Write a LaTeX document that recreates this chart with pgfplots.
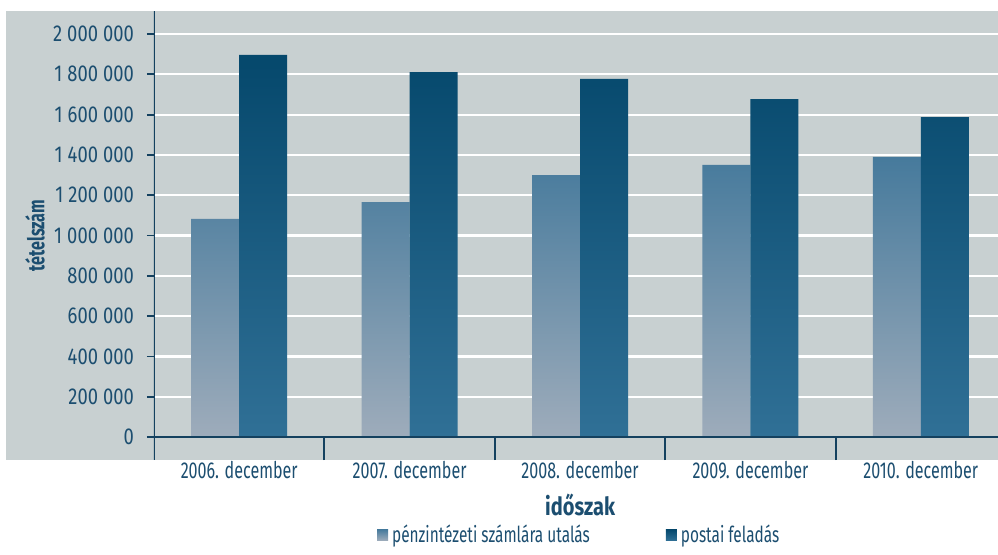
\documentclass[border=0pt]{standalone}
\usepackage{fontspec}
\setmainfont{Fira Sans}[FakeStretch=0.8]
\newfontfamily\cond{Fira Sans}[FakeStretch=0.7]
\usepackage{pgfplots}
\pgfplotsset{compat=1.18}
\definecolor{bg}{RGB}{200,208,209}
\definecolor{txt}{RGB}{28,78,112}
\definecolor{axc}{RGB}{20,65,95}
\definecolor{lt}{RGB}{70,122,156}
\definecolor{lm}{RGB}{115,145,168}
\definecolor{lb}{RGB}{158,172,187}
\definecolor{dt}{RGB}{5,72,108}
\definecolor{dm}{RGB}{0,98,138}
\definecolor{db}{RGB}{48,112,150}
\newcommand{\ts}{\hspace{0.22em}}
\begin{document}
\begin{tikzpicture}[x=1pt,y=1pt]
\path[use as bounding box] (0,0) rectangle (499,277);
\fill[bg] (3,47) rectangle (499,271.5);
\begin{axis}[at={(77pt,47pt)}, anchor=south west, scale only axis,
  width=422pt, height=224.5pt,
  xmin=-0.5, xmax=4.453, ymin=-114144, ymax=2114144,
  axis line style={draw=none},
  ybar=0pt, bar width=24pt,
  xtick={0,1,2,3,4},
  xticklabels={2006. december,2007. december,2008. december,2009. december,2010. december},
  x tick style={draw=none},
  ytick={0,200000,400000,600000,800000,1000000,1200000,1400000,1600000,1800000,2000000},
  yticklabels={0,200\ts000,400\ts000,600\ts000,800\ts000,1\ts000\ts000,1\ts200\ts000,1\ts400\ts000,1\ts600\ts000,1\ts800\ts000,2\ts000\ts000},
  ytick pos=left, tick align=outside, major tick length=3.5pt,
  y tick style={axc, line width=0.9pt},
  scaled y ticks=false,
  ymajorgrids, grid style={white, line width=1.1pt},
  yticklabel style={font=\fontsize{11.5}{13}\selectfont, text=txt, xshift=-3pt},
  xticklabel style={font=\cond\fontsize{11.5}{13}\selectfont, text=txt, yshift=6.5pt},
  xlabel={\textbf{időszak}},
  xlabel style={font=\fontsize{12.5}{14}\selectfont, text=txt, at={(axis description cs:0.505,-0.1)}, anchor=center},
  ylabel={\textbf{tételszám}},
  ylabel style={font=\cond\fontsize{11.5}{14}\selectfont, text=txt, at={(axis description cs:-0.141,0.5)}, anchor=center, rotate=0},
  legend columns=2,
  legend style={at={(axis description cs:0.505,-0.167)}, anchor=center, draw=none, fill=none,
    font=\cond\fontsize{11}{13}\selectfont, text=txt,
    /tikz/every even column/.append style={column sep=36pt}},
  legend image code/.code={\fill[#1] (-2pt,-2.75pt) rectangle (3.5pt,2.75pt);},
]
\addplot[draw=none, top color=lt, middle color=lm, bottom color=lb] coordinates
  {(0,1082000) (1,1166000) (2,1300000) (3,1350000) (4,1390000)};
\addlegendentry{pénzintézeti számlára utalás}
\addplot[draw=none, top color=dt, middle color=dm, bottom color=db] coordinates
  {(0,1896000) (1,1811000) (2,1777000) (3,1677000) (4,1588000)};
\addlegendentry{postai feladás}
\draw[axc, line width=1pt] (axis cs:-0.5,0) -- (axis cs:4.453,0);
\draw[axc, line width=1pt] (rel axis cs:0,0) -- (rel axis cs:0,1);
\draw[axc, line width=1pt] (axis cs:0.5,-114144) -- (axis cs:0.5,0);
\draw[axc, line width=1pt] (axis cs:1.5,-114144) -- (axis cs:1.5,0);
\draw[axc, line width=1pt] (axis cs:2.5,-114144) -- (axis cs:2.5,0);
\draw[axc, line width=1pt] (axis cs:3.5,-114144) -- (axis cs:3.5,0);
\end{axis}
\end{tikzpicture}
\end{document}
